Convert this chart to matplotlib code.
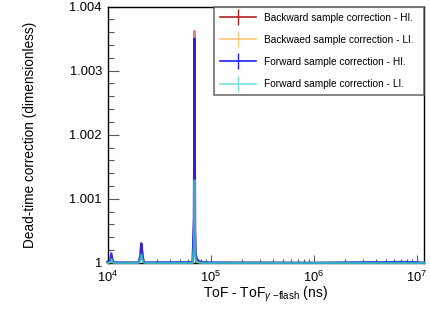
import matplotlib
matplotlib.use('Agg')
import matplotlib.pyplot as plt
from matplotlib.lines import Line2D
from matplotlib.ticker import FixedLocator, LogLocator, NullFormatter

plt.rcParams['font.family'] = ['Liberation Sans', 'DejaVu Sans']
plt.rcParams['mathtext.fontset'] = 'custom'
plt.rcParams['mathtext.rm'] = 'Liberation Sans'
plt.rcParams['mathtext.it'] = 'Liberation Sans:italic'

# ToF - ToF_gamma-flash (ns), shared sampling points
tof = [1.00e4, 1.06e4, 1.09e4, 1.12e4, 1.16e4, 1.25e4,
       2.00e4, 2.08e4, 2.13e4, 2.18e4, 2.24e4, 2.35e4,
       6.70e4, 6.90e4, 7.00e4, 7.08e4, 7.16e4, 7.30e4, 7.60e4, 8.20e4,
       1.0e5, 1.0e6, 3.5e6, 5.0e6, 7.0e6, 1.0e7, 1.18e7]

bwd_hi = [1.00001, 1.00002, 1.00008, 1.00003, 1.00001, 1.000005,
          1.000005, 1.00010, 1.00031, 1.00014, 1.00002, 1.000005,
          1.00001, 1.00068, 1.00362, 1.00048, 1.00014, 1.00007, 1.00003, 1.00001,
          1.000005, 1.0, 1.000005, 1.000005, 1.00001, 1.000005, 1.0]
bwd_li = [1.0, 1.00001, 1.00005, 1.00001, 1.0, 1.0,
          1.0, 1.00004, 1.00012, 1.00005, 1.00001, 1.0,
          1.0, 1.00025, 1.00125, 1.00018, 1.00005, 1.00002, 1.00001, 1.0,
          1.0, 1.0, 1.0, 1.0, 1.0, 1.0, 1.0]
fwd_hi = [1.00002, 1.00003, 1.00015, 1.00004, 1.00001, 1.000005,
          1.000005, 1.00010, 1.00030, 1.00015, 1.00002, 1.000005,
          1.00001, 1.00070, 1.00350, 1.00050, 1.00015, 1.00008, 1.00003, 1.00001,
          1.000005, 1.0, 1.00001, 1.00001, 1.000015, 1.00001, 1.0]
fwd_li = [1.0, 1.00001, 1.00006, 1.00002, 1.0, 1.0,
          1.0, 1.00005, 1.00013, 1.00006, 1.00001, 1.0,
          1.0, 1.00026, 1.00129, 1.00019, 1.00006, 1.00003, 1.00001, 1.0,
          1.0, 1.0, 1.0, 1.0, 1.0, 1.0, 1.0]

names = ['Backward sample correction - HI.', 'Backwaed sample correction - LI.',
         'Forward sample correction - HI.', 'Forward sample correction - LI.']
series = [bwd_hi, bwd_li, fwd_hi, fwd_li]
colors = ['#d02020', '#ffb040', '#1010f0', '#30c0c8']
alphas = [0.55, 0.6, 0.85, 0.85]
leg_colors = ['#b02020', '#ffc878', '#2020ff', '#78e0e0']

fig = plt.figure(figsize=(4.3, 3.1), dpi=100)
ax = fig.add_axes([0.25, 0.152, 0.736, 0.827])

for ys, c, a in zip(series, colors, alphas):
    ax.plot(tof, ys, color=c, alpha=a, lw=1.6, clip_on=False, zorder=3)

ax.set_xscale('log')
ax.set_xlim(1e4, 1.18e7)
ax.set_ylim(1.0, 1.004)

ax.yaxis.set_major_locator(FixedLocator([1.0, 1.001, 1.002, 1.003, 1.004]))
ax.set_yticklabels(['1', '1.001', '1.002', '1.003', '1.004'])
ax.yaxis.set_minor_locator(FixedLocator([1.0 + 0.0002 * i for i in range(21)]))
ax.xaxis.set_major_locator(LogLocator(base=10, numticks=10))
ax.xaxis.set_minor_locator(LogLocator(base=10, subs=range(2, 10), numticks=20))
ax.xaxis.set_minor_formatter(NullFormatter())

ax.tick_params(axis='both', which='both', direction='in', labelsize=9.3, color='0.35',
               width=0.8, top=False, right=False)
ax.tick_params(axis='y', which='major', length=8, pad=4)
ax.tick_params(axis='y', which='minor', length=4.3)
ax.tick_params(axis='x', which='major', length=6, pad=5)
ax.tick_params(axis='x', which='minor', length=3)

for s in ax.spines.values():
    s.set_linewidth(1.0)

ax.set_xlabel(r'ToF - ToF$_{\gamma\ \mathrm{-flash}}$ (ns)', fontsize=10, labelpad=0)
ax.set_ylabel('Dead-time correction (dimensionless)', fontsize=9.8, labelpad=23)

handles = [Line2D([], [], color=c, lw=1.2, marker='|', markersize=11, markeredgewidth=1.0)
           for c in leg_colors]
leg = ax.legend(handles, names, loc='upper left', bbox_to_anchor=(0.336, 1.0, 0.664, 0.0),
                mode='expand', fontsize=7.3, frameon=True, fancybox=False,
                handlelength=3.6, handletextpad=0.75, labelspacing=1.2,
                borderpad=0.6, borderaxespad=0)
leg.get_frame().set_edgecolor('0.3')
leg.get_frame().set_linewidth(1.2)

fig.savefig('out.png', dpi=100)
